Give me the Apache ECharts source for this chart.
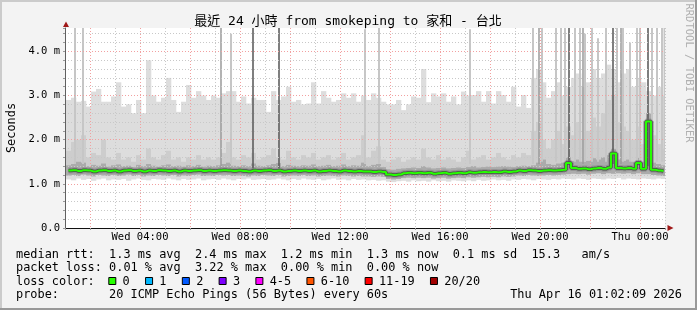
<!DOCTYPE html>
<html>
<head>
<meta charset="utf-8">
<script src="https://cdn.jsdelivr.net/npm/echarts@6/dist/echarts.min.js"></script>
<style>html,body{margin:0;padding:0;background:#f3f3f3;}#c{width:697px;height:310px;}</style>
</head>
<body>
<div id="c"></div>
<script>
// ---------------- data ----------------
const titleText = '最近 24 小時 from smokeping to 家和 - 台北';
const yAxisName = 'Seconds';
const startHour = 1.04;   // Wed 01:02 (hours since Wed 00:00)
const stepHour = 0.2;     // one sample per 12 minutes

const smokeTop = [
 2.90,2.95,2.86,2.88,2.75,3.09,3.15,2.86,2.86,2.98,
 3.30,2.75,2.80,2.60,2.90,2.60,3.80,3.00,2.86,2.95,
 3.40,2.90,2.63,2.86,3.24,2.95,3.10,3.00,2.90,3.00,
 2.95,3.05,3.10,3.10,2.86,2.98,2.82,2.95,2.90,2.90,
 2.63,3.10,2.90,2.98,3.20,2.86,2.90,2.80,2.82,3.30,
 2.82,3.10,2.95,2.86,2.90,3.05,2.95,3.05,2.86,3.00,
 2.90,3.05,2.95,2.86,2.80,2.80,2.90,2.67,2.80,2.98,
 2.95,3.60,2.85,3.05,2.98,3.05,2.86,2.98,2.80,3.09,
 3.00,3.01,3.10,2.86,3.10,2.82,3.10,3.01,2.86,3.20,
 2.75,3.01,2.72,3.40,3.60,3.30,2.95,3.10,3.30,3.00,
 3.20,3.40,3.50,3.20,3.30,3.60,3.40,3.50,3.70,3.60,
 3.30,3.50,3.60,3.20,3.40,3.30,3.10,3.00,3.20,3.00
];
const smokeUp2 = [
 1.75,1.95,2.00,2.10,1.60,1.70,1.65,2.00,1.60,1.55,
 1.70,1.55,1.60,1.50,1.65,1.55,1.80,1.60,1.55,1.65,
 1.75,1.55,1.60,1.50,1.60,1.55,1.65,1.55,1.60,1.55,
 1.60,1.70,1.95,1.60,1.55,1.65,1.60,1.70,1.55,1.60,
 1.65,1.80,1.60,1.55,1.75,1.60,1.55,1.65,1.60,1.70,
 1.55,1.60,1.65,1.55,1.60,1.70,1.55,1.60,1.65,2.10,
 1.60,1.75,1.85,1.55,1.50,1.55,1.60,1.50,1.55,1.60,
 1.55,1.80,1.60,1.55,1.65,1.55,1.60,1.55,1.50,1.60,
 1.75,1.55,1.60,1.65,1.55,1.60,1.70,1.60,1.55,1.65,
 1.60,1.70,1.65,2.20,2.40,2.00,1.80,2.00,2.20,1.90,
 2.30,2.10,2.40,2.00,2.20,2.50,2.30,2.60,2.90,3.00,
 2.40,2.30,2.20,2.00,2.30,1.90,2.60,2.10,1.90,1.80
];
const smokeUp3 = [
 1.42,1.45,1.50,1.48,1.40,1.43,1.41,1.46,1.39,1.42,
 1.44,1.40,1.41,1.38,1.43,1.40,1.45,1.41,1.39,1.42,
 1.44,1.40,1.41,1.39,1.42,1.40,1.43,1.39,1.41,1.40,
 1.42,1.45,1.48,1.41,1.40,1.42,1.40,1.46,1.41,1.40,
 1.42,1.45,1.47,1.40,1.43,1.41,1.40,1.42,1.41,1.44,
 1.40,1.41,1.43,1.40,1.41,1.44,1.40,1.42,1.41,1.48,
 1.40,1.43,1.45,1.38,1.33,1.32,1.34,1.35,1.36,1.37,
 1.36,1.40,1.37,1.35,1.36,1.37,1.35,1.36,1.37,1.36,
 1.38,1.40,1.37,1.38,1.39,1.38,1.39,1.40,1.39,1.38,
 1.40,1.41,1.40,1.42,1.48,1.55,1.45,1.43,1.46,1.48,
 1.60,1.52,1.55,1.50,1.52,1.58,1.55,1.60,1.65,1.80,
 1.55,1.52,1.55,1.50,1.60,1.50,2.60,1.48,1.45,1.42
];
const medianRtt = [
 1.30,1.31,1.29,1.31,1.30,1.28,1.30,1.31,1.29,1.30,
 1.28,1.30,1.31,1.29,1.30,1.28,1.30,1.29,1.31,1.30,
 1.29,1.30,1.28,1.30,1.29,1.30,1.31,1.29,1.30,1.29,
 1.30,1.31,1.30,1.29,1.30,1.29,1.28,1.30,1.29,1.30,
 1.31,1.29,1.30,1.28,1.29,1.30,1.29,1.30,1.29,1.30,
 1.28,1.29,1.30,1.29,1.28,1.30,1.29,1.28,1.29,1.28,
 1.28,1.27,1.28,1.27,1.21,1.20,1.21,1.24,1.25,1.24,
 1.25,1.24,1.25,1.23,1.24,1.25,1.23,1.24,1.25,1.24,
 1.26,1.25,1.26,1.27,1.26,1.27,1.26,1.28,1.27,1.28,
 1.30,1.29,1.31,1.30,1.29,1.30,1.31,1.30,1.31,1.32,
 1.47,1.36,1.34,1.35,1.33,1.35,1.36,1.34,1.37,1.69,
 1.36,1.35,1.36,1.34,1.47,1.34,2.41,1.32,1.30,1.29
];
const smokeLo2 = [
 1.19,1.20,1.18,1.21,1.19,1.17,1.20,1.19,1.18,1.20,
 1.18,1.19,1.21,1.18,1.20,1.17,1.19,1.18,1.20,1.19,
 1.18,1.20,1.17,1.19,1.18,1.20,1.21,1.18,1.19,1.18,
 1.20,1.19,1.20,1.18,1.19,1.18,1.17,1.19,1.18,1.20,
 1.19,1.18,1.20,1.17,1.18,1.19,1.18,1.20,1.18,1.19,
 1.17,1.18,1.19,1.18,1.17,1.19,1.18,1.17,1.18,1.17,
 1.17,1.16,1.17,1.16,1.11,1.10,1.11,1.13,1.14,1.13,
 1.14,1.13,1.14,1.12,1.13,1.14,1.12,1.13,1.14,1.13,
 1.15,1.14,1.15,1.16,1.15,1.16,1.15,1.17,1.16,1.17,
 1.19,1.18,1.20,1.19,1.18,1.19,1.20,1.19,1.20,1.21,
 1.22,1.23,1.22,1.23,1.21,1.23,1.24,1.22,1.24,1.23,
 1.24,1.23,1.24,1.22,1.24,1.22,1.22,1.20,1.19,1.18
];
const smokeLo = [
 1.10,1.08,1.12,1.09,1.11,1.07,1.10,1.12,1.08,1.10,
 1.09,1.11,1.07,1.10,1.12,1.09,1.08,1.11,1.10,1.09,
 1.12,1.10,1.08,1.11,1.09,1.10,1.12,1.08,1.10,1.11,
 1.09,1.12,1.10,1.08,1.11,1.10,1.12,1.09,1.10,1.11,
 1.09,1.10,1.12,1.10,1.08,1.11,1.09,1.12,1.10,1.09,
 1.11,1.08,1.10,1.12,1.09,1.10,1.08,1.11,1.09,1.10,
 1.08,1.09,1.07,1.08,1.05,1.04,1.06,1.07,1.05,1.08,
 1.06,1.07,1.05,1.08,1.06,1.07,1.05,1.08,1.07,1.06,
 1.08,1.06,1.09,1.07,1.08,1.10,1.08,1.09,1.07,1.10,
 1.09,1.11,1.10,1.08,1.11,1.10,1.09,1.11,1.10,1.12,
 1.11,1.10,1.12,1.11,1.09,1.12,1.11,1.10,1.12,1.11,
 1.13,1.10,1.12,1.11,1.10,1.12,1.11,1.10,1.12,1.11
];

// thin columns of pings that reach far above the smoke
const lightSpikeHours = [1.40,1.72,7.64,13.00,13.56,17.20,19.72,20.08,20.64,20.84,21.00,21.40,21.60,21.80,22.08,22.32,22.64,23.08,23.32,23.60,23.88,24.00,24.48,24.68,24.88,24.98];
const lightSpikeFrom  = [1.45,1.45,1.45,1.45,1.45,1.45,1.45,1.50,1.50,1.50,1.50,1.50,1.50,1.50,1.50,1.50,1.50,1.50,1.50,1.50,1.50,1.50,1.50,1.50,1.50,1.50];
const lightSpikeTo    = [4.53,4.53,4.40,4.50,4.53,4.50,4.53,4.53,4.53,4.53,4.53,4.53,4.53,4.40,4.53,4.30,4.53,4.53,4.53,4.20,4.53,4.53,4.53,4.53,4.53,4.53];
const midSpikeHours = [7.24,19.96,21.72,23.24];
const midSpikeFrom  = [1.35,1.45,1.45,1.45];
const midSpikeTo    = [4.53,4.53,4.53,4.53];
const darkSpikeHours = [8.52,9.56,21.16,22.92,24.32];
const darkSpikeFrom  = [1.35,1.35,1.45,1.45,1.40];
const darkSpikeTo    = [4.53,4.53,4.53,4.53,4.53];

const xLabelHours = [4, 8, 12, 16, 20, 24];
const xLabelTexts = ['Wed 04:00', 'Wed 08:00', 'Wed 12:00', 'Wed 16:00', 'Wed 20:00', 'Thu 00:00'];
const yLabelValues = [0, 1, 2, 3, 4];
const yLabelTexts = ['0.0', '1.0 m', '2.0 m', '3.0 m', '4.0 m'];

const legendRows = [
  'median rtt:  1.3 ms avg  2.4 ms max  1.2 ms min  1.3 ms now  0.1 ms sd  15.3   am/s',
  'packet loss: 0.01 % avg  3.22 % max  0.00 % min  0.00 % now',
  'loss color:',
  'probe:       20 ICMP Echo Pings (56 Bytes) every 60s'
];
const lossLabels = ['0', '1', '2', '3', '4-5', '6-10', '11-19', '20/20'];
const lossColors = ['#26ff00', '#00b8ff', '#0059ff', '#7e00ff', '#ff00ff', '#ff5500', '#ff0000', '#a10000'];
const dateText = 'Thu Apr 16 01:02:09 2026';
const creditText = 'RRDTOOL / TOBI OETIKER';

// ---------------- build ----------------
const MONO = '"DejaVu Sans Mono", "Noto Sans CJK TC", monospace';
const smokeData = smokeTop.map((t, i) => [startHour + stepHour * (i + 0.5), smokeLo[i], smokeLo2[i], smokeUp3[i], smokeUp2[i], t]);
const medianData = medianRtt.map((v, i) => [startHour + stepHour * (i + 0.5), v]);
const spikes = (h, f, t) => h.map((x, i) => [x, f[i], t[i]]);

function smokeRender(params, api) {
  const t = api.value(0);
  const x0 = api.coord([t - stepHour / 2, 0])[0];
  const x1 = api.coord([t + stepHour / 2, 0])[0];
  function band(a, b, color) {
    const ya = api.coord([t, api.value(a)])[1];
    const yb = api.coord([t, api.value(b)])[1];
    return { type: 'rect', shape: { x: x0, y: yb, width: x1 - x0 + 0.3, height: ya - yb }, style: { fill: color } };
  }
  return { type: 'group', children: [band(1, 5, '#dddddd'), band(2, 4, '#cdcdcd'), band(2, 3, '#ababab')] };
}
function spikeRender(color, w) {
  return function (params, api) {
    const p0 = api.coord([api.value(0), api.value(1)]);
    const p1 = api.coord([api.value(0), api.value(2)]);
    return { type: 'rect', shape: { x: p0[0] - w / 2, y: p1[1], width: w, height: p0[1] - p1[1] }, style: { fill: color } };
  };
}

const graphics = [
  { type: 'rect', shape: { x: 0, y: 0, width: 697, height: 2 }, style: { fill: '#cbcbcb' }, silent: true },
  { type: 'rect', shape: { x: 0, y: 0, width: 2, height: 310 }, style: { fill: '#cbcbcb' }, silent: true },
  { type: 'rect', shape: { x: 0, y: 308, width: 697, height: 2 }, style: { fill: '#999999' }, silent: true },
  { type: 'rect', shape: { x: 695, y: 0, width: 2, height: 310 }, style: { fill: '#999999' }, silent: true },
  { type: 'text', x: 348, y: 21.5, style: { text: titleText, font: '13px ' + MONO, fill: '#000', align: 'center', verticalAlign: 'middle' } },
  { type: 'text', x: 688.5, y: 73, rotation: -Math.PI / 2, style: { text: creditText, font: '10.5px ' + MONO, fill: '#b0b0b0', align: 'center', verticalAlign: 'middle' } },
  { type: 'polygon', shape: { points: [[63, 27], [69, 27], [66, 21.5]] }, style: { fill: '#a01818' }, z: 10 },
  { type: 'polygon', shape: { points: [[667.5, 225], [667.5, 231], [673.5, 228]] }, style: { fill: '#a01818' }, z: 10 }
];
const rowY = [254.8, 268.3, 281.8, 295.3];
legendRows.forEach((r, i) => graphics.push({ type: 'text', x: 16, y: rowY[i], style: { text: r, font: '11.9px ' + MONO, fill: '#000', align: 'left', verticalAlign: 'middle' } }));
graphics.push({ type: 'text', x: 682, y: rowY[3], style: { text: dateText, font: '11.9px ' + MONO, fill: '#000', align: 'right', verticalAlign: 'middle' } });
let sqx = 108.3;
lossLabels.forEach((lab, i) => {
  graphics.push({ type: 'rect', shape: { x: sqx + 0.5, y: 277.5, width: 7, height: 7 }, style: { fill: lossColors[i], stroke: '#000', lineWidth: 1 } });
  graphics.push({ type: 'text', x: sqx + 14.3, y: rowY[2], style: { text: lab, font: '11.9px ' + MONO, fill: '#000', align: 'left', verticalAlign: 'middle' } });
  sqx += (4.15 + lab.length) * 7.14;
});

const chart = echarts.init(document.getElementById('c'), null, { renderer: 'canvas' });
chart.setOption({
  backgroundColor: '#f3f3f3',
  animation: false,
  grid: { left: 65, top: 28, width: 600, height: 200, show: true, backgroundColor: '#ffffff', borderWidth: 0, containLabel: false, outerBoundsMode: 'none' },
  xAxis: {
    type: 'value', min: 1, max: 25, interval: 1, z: 3,
    axisLine: { show: true, onZero: false, lineStyle: { color: '#101010', width: 1 } },
    axisTick: { show: true, length: 2, lineStyle: { color: '#999' } },
    axisLabel: {
      color: '#000', fontFamily: MONO, fontSize: 10.5, margin: 4,
      formatter: v => { const k = xLabelHours.findIndex(h => Math.abs(h - v) < 1e-6); return k >= 0 ? xLabelTexts[k] : ''; }
    },
    splitLine: { show: true, lineStyle: { color: ['#c8c8c8', '#f2a0a0'], type: [1, 2], width: 1 } }
  },
  yAxis: {
    type: 'value', min: 0, max: 4.53, interval: 0.2, z: 3,
    name: yAxisName, nameLocation: 'middle', nameGap: 47, nameRotate: 90,
    nameTextStyle: { color: '#000', fontFamily: MONO, fontSize: 11.9 },
    axisLine: { show: true, lineStyle: { color: '#606060', width: 1 } },
    axisTick: { show: true, length: 2, lineStyle: { color: '#999' } },
    axisLabel: {
      color: '#000', fontFamily: MONO, fontSize: 10.5, margin: 5,
      formatter: v => { const k = yLabelValues.findIndex(h => Math.abs(h - v) < 1e-6); return k >= 0 ? yLabelTexts[k] : ''; }
    },
    splitLine: { show: true, showMaxLine: false, lineStyle: { color: ['#f2a0a0', '#c8c8c8', '#c8c8c8', '#c8c8c8', '#c8c8c8'], type: [1, 2], width: 1 } }
  },
  series: [
    { type: 'custom', z: 1, clip: true, renderItem: smokeRender, data: smokeData, silent: true },
    { type: 'custom', z: 1, clip: true, renderItem: spikeRender('#c6c6c6', 2), data: spikes(lightSpikeHours, lightSpikeFrom, lightSpikeTo), silent: true },
    { type: 'custom', z: 1, clip: true, renderItem: spikeRender('#9a9a9a', 1.5), data: spikes(midSpikeHours, midSpikeFrom, midSpikeTo), silent: true },
    { type: 'custom', z: 1, clip: true, renderItem: spikeRender('#555555', 1.5), data: spikes(darkSpikeHours, darkSpikeFrom, darkSpikeTo), silent: true },
    { type: 'line', z: 4, data: medianData, step: 'middle', showSymbol: false, silent: true, lineStyle: { color: 'rgba(120,120,120,0.45)', width: 6 } },
    { type: 'line', z: 4, data: medianData, step: 'middle', showSymbol: false, silent: true, lineStyle: { color: '#4a4a4a', width: 3.5 } },
    { type: 'line', z: 5, data: medianData, step: 'middle', showSymbol: false, silent: true, lineStyle: { color: '#26ff00', width: 2 } }
  ],
  graphic: graphics
});
</script>
</body>
</html>
